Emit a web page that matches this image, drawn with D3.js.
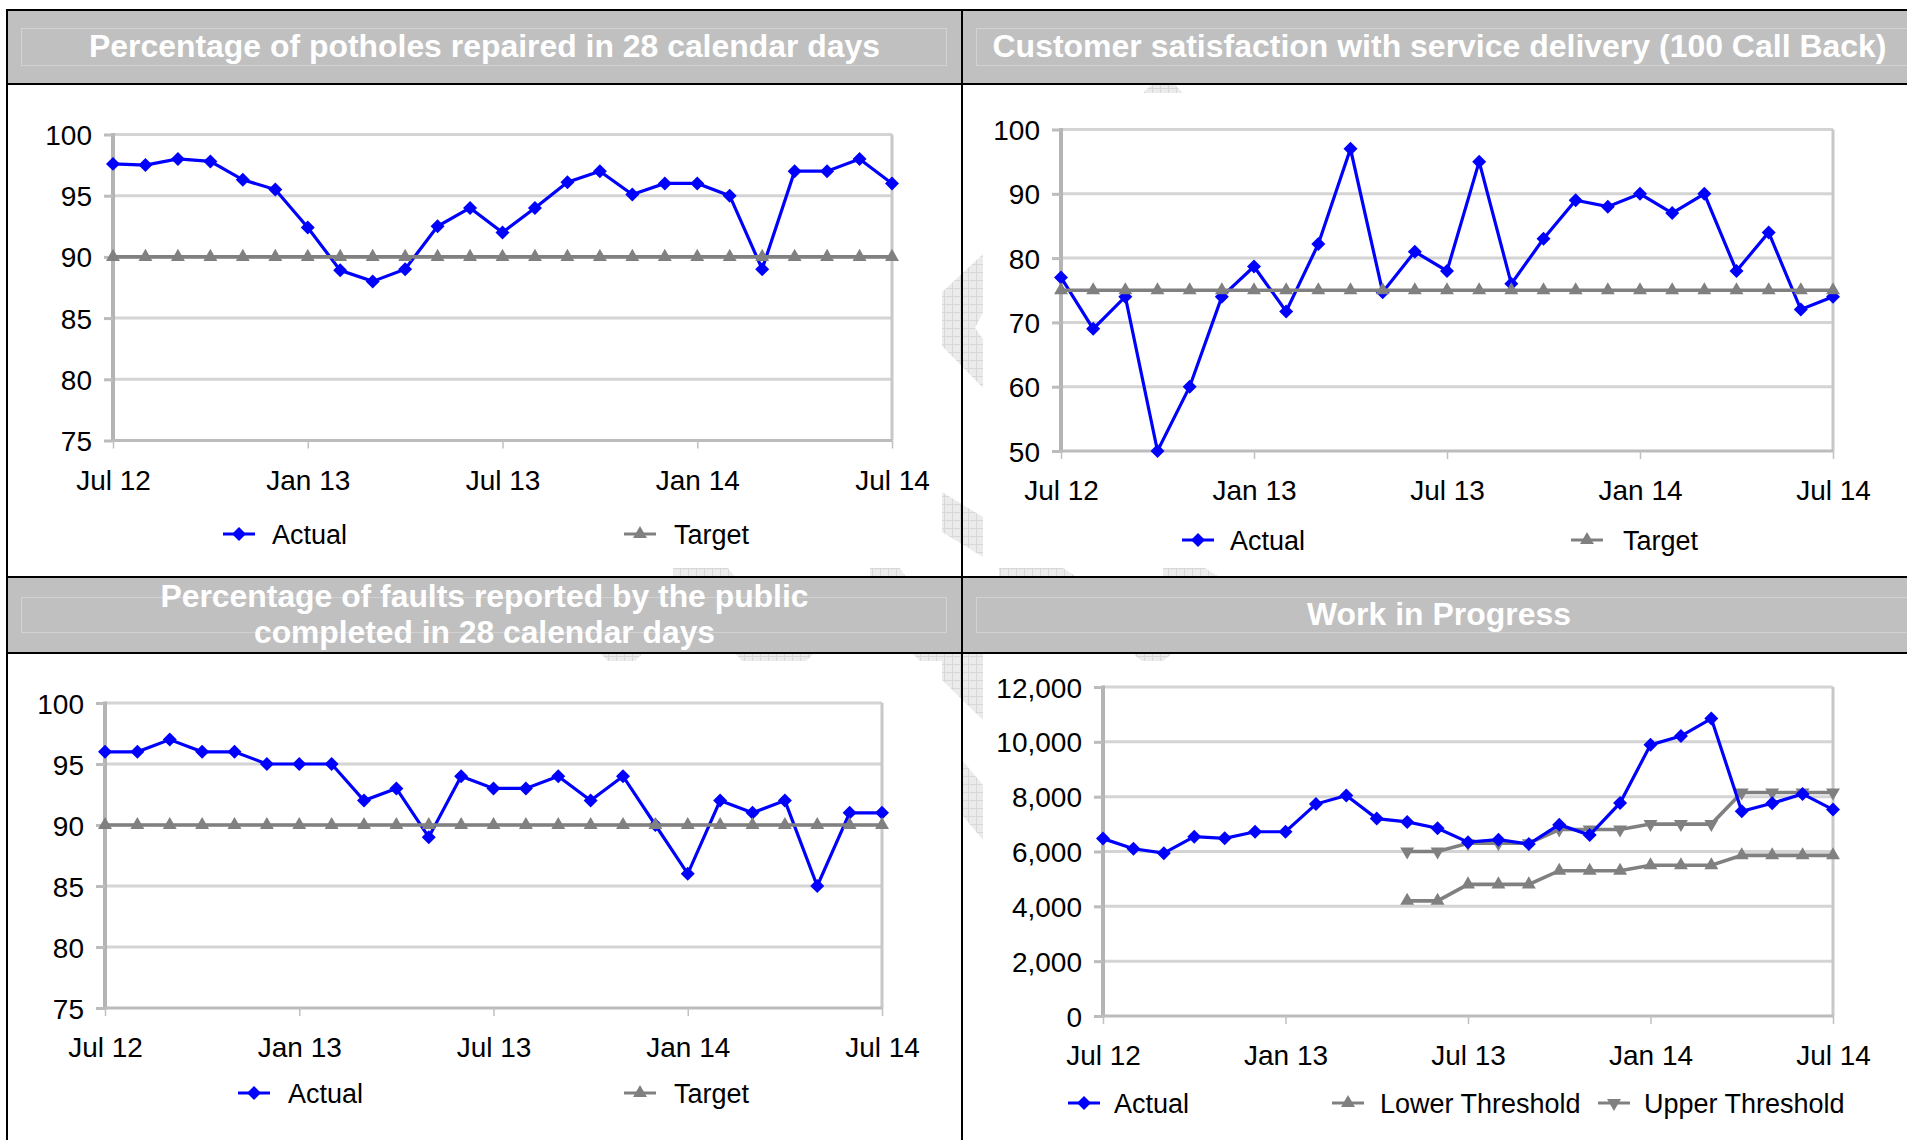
<!DOCTYPE html>
<html>
<head>
<meta charset="utf-8">
<script src="https://cdn.jsdelivr.net/npm/d3@7"></script>
<style>
  html, body { margin: 0; padding: 0; background: #fff; }
  svg { display: block; font-family: "Liberation Sans", Arial, sans-serif; }
</style>
</head>
<body>
<div id="chart"></div>
<script>
// ---- data ----
const months = ['Jul 12', 'Aug 12', 'Sep 12', 'Oct 12', 'Nov 12', 'Dec 12', 'Jan 13', 'Feb 13', 'Mar 13',
  'Apr 13', 'May 13', 'Jun 13', 'Jul 13', 'Aug 13', 'Sep 13', 'Oct 13', 'Nov 13', 'Dec 13', 'Jan 14',
  'Feb 14', 'Mar 14', 'Apr 14', 'May 14', 'Jun 14', 'Jul 14'];
const tickMonths = ['Jul 12', 'Jan 13', 'Jul 13', 'Jan 14', 'Jul 14'];

const potholesActual = [97.6, 97.5, 98.0, 97.8, 96.3, 95.5, 92.4, 88.9, 88.0, 89.0, 92.5, 94.0, 92.0,
  94.0, 96.1, 97.0, 95.1, 96.0, 96.0, 95.0, 89.0, 97.0, 97.0, 98.0, 96.0];
const potholesTarget = [90, 90, 90, 90, 90, 90, 90, 90, 90, 90, 90, 90, 90, 90, 90, 90, 90, 90, 90, 90,
  90, 90, 90, 90, 90];
const potholesTicks = [75, 80, 85, 90, 95, 100];

const satisfactionActual = [77, 69, 74, 50, 60, 74, 78.7, 71.7, 82.2, 97, 74.7, 81, 78, 95, 76, 83, 89,
  88, 90, 87, 90, 78, 84, 72, 74];
const satisfactionTarget = [75, 75, 75, 75, 75, 75, 75, 75, 75, 75, 75, 75, 75, 75, 75, 75, 75, 75, 75,
  75, 75, 75, 75, 75, 75];
const satisfactionTicks = [50, 60, 70, 80, 90, 100];

const faultsActual = [96, 96, 97, 96, 96, 95, 95, 95, 92, 93, 89, 94, 93, 93, 94, 92, 94, 90, 86, 92, 91,
  92, 85, 91, 91];
const faultsTarget = [90, 90, 90, 90, 90, 90, 90, 90, 90, 90, 90, 90, 90, 90, 90, 90, 90, 90, 90, 90,
  90, 90, 90, 90, 90];
const faultsTicks = [75, 80, 85, 90, 95, 100];

const wipActual = [6470, 6100, 5940, 6540, 6480, 6720, 6720, 7730, 8040, 7200, 7080, 6850, 6340, 6430,
  6270, 6980, 6600, 7770, 9890, 10210, 10850, 7470, 7760, 8100, 7530];
const wipLower = [null, null, null, null, null, null, null, null, null, null, 4200, 4200, 4800, 4800,
  4800, 5300, 5300, 5300, 5500, 5500, 5500, 5860, 5860, 5860, 5860];
const wipUpper = [null, null, null, null, null, null, null, null, null, null, 6000, 6000, 6300, 6300,
  6300, 6800, 6800, 6800, 7000, 7000, 7000, 8150, 8150, 8150, 8150];
const wipTicks = [0, 2000, 4000, 6000, 8000, 10000, 12000];

// ---- layout ----
const W = 1907, H = 1140;
const BLUE = '#0000ff', GREY = '#808080';
const FS = 28;

const svg = d3.select('#chart').append('svg')
  .attr('width', W)
  .attr('height', H)
  .attr('viewBox', `0 0 ${W} ${H}`);

// faint hatched watermark behind the panels
const defs = svg.append('defs');
const pat = defs.append('pattern')
  .attr('id', 'hatch')
  .attr('width', 8).attr('height', 8)
  .attr('patternUnits', 'userSpaceOnUse');
pat.append('rect').attr('width', 8).attr('height', 8).attr('fill', '#ebebeb');
pat.append('path').attr('d', 'M0,0.5H8M0.5,0V8').attr('stroke', '#d8d8d8').attr('stroke-width', 1);

const watermark = [
  [[1151, 85], [1175, 85], [1183, 93], [1143, 93]],
  [[983, 254], [942, 292], [942, 346], [983, 388], [983, 339], [975, 328], [983, 312]],
  [[942, 492], [983, 517], [983, 557], [942, 532]],
  [[673, 568], [728, 568], [735, 577], [673, 577]],
  [[870, 568], [900, 568], [906, 577], [870, 577]],
  [[999, 568], [1063, 568], [1077, 577], [999, 577]],
  [[1163, 568], [1205, 568], [1219, 577], [1163, 577]],
  [[600, 653], [643, 653], [635, 661], [608, 661]],
  [[735, 653], [814, 653], [806, 661], [742, 661]],
  [[912, 653], [983, 653], [983, 720], [942, 680], [942, 661], [920, 661]],
  [[962, 760], [983, 785], [983, 840], [962, 815]],
  [[1132, 653], [1173, 653], [1163, 661], [1142, 661]]
];
svg.append('g').selectAll('path')
  .data(watermark)
  .join('path')
  .attr('d', d => 'M' + d.join('L') + 'Z')
  .attr('fill', 'url(#hatch)');

// header bands
svg.append('rect').attr('x', 7).attr('y', 10).attr('width', W - 7).attr('height', 74).attr('fill', '#c0c0c0');
svg.append('rect').attr('x', 7).attr('y', 577).attr('width', W - 7).attr('height', 76).attr('fill', '#c0c0c0');

// faint title boxes
const boxes = [[21, 28, 925, 37], [976, 28, 940, 37], [21, 597, 925, 35], [976, 597, 940, 35]];
svg.append('g').selectAll('rect')
  .data(boxes)
  .join('rect')
  .attr('x', d => d[0] + 0.5).attr('y', d => d[1] + 0.5)
  .attr('width', d => d[2]).attr('height', d => d[3])
  .attr('fill', 'none').attr('stroke', '#d2d2d2').attr('stroke-width', 1);

// black panel rules
const rules = [[7, 10, W, 10], [7, 84, W, 84], [7, 577, W, 577], [7, 653, W, 653], [7, 9, 7, H], [962, 9, 962, H]];
svg.append('g').selectAll('line')
  .data(rules)
  .join('line')
  .attr('x1', d => d[0]).attr('y1', d => d[1])
  .attr('x2', d => d[2]).attr('y2', d => d[3])
  .attr('stroke', '#000').attr('stroke-width', 2);

// ---- charts ----
const charts = [
  {
    title: [['Percentage of potholes repaired in 28 calendar days', 57, 791]], cx: 484.5,
    x0: 113, x1: 892, yTop: 134.5, yBot: 440.5, domain: [75, 100], ticks: potholesTicks, fmt: d3.format('d'),
    series: [
      { name: 'Actual', values: potholesActual, color: BLUE, marker: 'diamond' },
      { name: 'Target', values: potholesTarget, color: GREY, marker: 'up' }
    ],
    legendY: 534, legend: [[239, 272], [640, 674]]
  },
  {
    title: [['Customer satisfaction with service delivery (100 Call Back)', 57, 894]], cx: 1439.5,
    x0: 1061, x1: 1833, yTop: 129.5, yBot: 451, domain: [50, 100], ticks: satisfactionTicks, fmt: d3.format('d'),
    series: [
      { name: 'Actual', values: satisfactionActual, color: BLUE, marker: 'diamond' },
      { name: 'Target', values: satisfactionTarget, color: GREY, marker: 'up' }
    ],
    legendY: 540, legend: [[1198, 1230], [1587, 1623]]
  },
  {
    title: [['Percentage of faults reported by the public', 607, 648], ['completed in 28 calendar days', 643, 461]],
    cx: 484.5,
    x0: 105, x1: 882, yTop: 703, yBot: 1008, domain: [75, 100], ticks: faultsTicks, fmt: d3.format('d'),
    series: [
      { name: 'Actual', values: faultsActual, color: BLUE, marker: 'diamond' },
      { name: 'Target', values: faultsTarget, color: GREY, marker: 'up' }
    ],
    legendY: 1093, legend: [[254, 288], [640, 674]]
  },
  {
    title: [['Work in Progress', 625, 264]], cx: 1439,
    x0: 1103, x1: 1833, yTop: 687, yBot: 1016, domain: [0, 12000], ticks: wipTicks, fmt: d3.format(','),
    series: [
      { name: 'Lower Threshold', values: wipLower, color: GREY, marker: 'up' },
      { name: 'Upper Threshold', values: wipUpper, color: GREY, marker: 'down' },
      { name: 'Actual', values: wipActual, color: BLUE, marker: 'diamond' }
    ],
    legendOrder: [2, 0, 1],
    legendY: 1103, legend: [[1084, 1114], [1348, 1380], [1614, 1644]]
  }
];

const markerPath = {
  diamond: d3.symbol(d3.symbolSquare, 98)(),
  up: d3.symbol(d3.symbolTriangle, 84)(),
  down: d3.symbol(d3.symbolTriangle, 84)()
};
const markerRotate = { diamond: 45, up: 0, down: 180 };

charts.forEach(c => {
  // title
  svg.append('g').selectAll('text')
    .data(c.title)
    .join('text')
    .attr('x', c.cx)
    .attr('y', d => d[1])
    .attr('text-anchor', 'middle')
    .attr('textLength', d => d[2])
    .attr('lengthAdjust', 'spacingAndGlyphs')
    .attr('fill', '#fff')
    .attr('font-weight', 'bold')
    .attr('font-size', 31)
    .text(d => d[0]);

  const x = d3.scalePoint().domain(months).range([c.x0, c.x1]);
  const y = d3.scaleLinear().domain(c.domain).range([c.yBot, c.yTop]);
  const g = svg.append('g');

  // gridlines
  g.append('g')
    .selectAll('line')
    .data(c.ticks.slice(1))
    .join('line')
    .attr('x1', c.x0).attr('x2', c.x1)
    .attr('y1', d => y(d)).attr('y2', d => y(d))
    .attr('stroke', '#d4d4d4').attr('stroke-width', 3);

  // right border
  g.append('line')
    .attr('x1', c.x1).attr('x2', c.x1)
    .attr('y1', c.yTop).attr('y2', c.yBot)
    .attr('stroke', '#c8c8c8').attr('stroke-width', 3);

  // y axis
  const yAxis = g.append('g')
    .attr('transform', `translate(${c.x0},0)`)
    .call(d3.axisLeft(y).tickValues(c.ticks).tickFormat(c.fmt).tickSize(9).tickPadding(12));
  yAxis.select('.domain').attr('stroke', '#b4b4b4').attr('stroke-width', 4)
    .attr('d', `M0,${c.yTop - 1.5}V${c.yBot + 1.5}`);
  yAxis.selectAll('.tick line').attr('stroke', '#bcbcbc').attr('stroke-width', 3);
  yAxis.selectAll('.tick text')
    .attr('font-size', FS).attr('font-family', null).attr('fill', '#000').attr('dy', '0.36em');

  // x axis
  const xAxis = g.append('g')
    .attr('transform', `translate(0,${c.yBot})`)
    .call(d3.axisBottom(x).tickValues(tickMonths).tickSize(8));
  xAxis.select('.domain').attr('stroke', '#bcbcbc').attr('stroke-width', 3)
    .attr('d', `M${c.x0},0H${c.x1}`);
  xAxis.selectAll('.tick line').attr('stroke', '#c0c0c0').attr('stroke-width', 1.5);
  xAxis.selectAll('.tick text')
    .attr('font-size', FS).attr('font-family', null).attr('fill', '#000')
    .attr('y', 49).attr('dy', 0);

  // series
  c.series.forEach(s => {
    const pts = s.values.map((v, i) => ({ m: months[i], v })).filter(d => d.v != null);
    g.append('path')
      .datum(pts)
      .attr('fill', 'none')
      .attr('stroke', s.color)
      .attr('stroke-width', s.color === BLUE ? 3.2 : 3.6)
      .attr('d', d3.line().x(d => x(d.m)).y(d => y(d.v)));
    g.append('g')
      .selectAll('path')
      .data(pts)
      .join('path')
      .attr('d', markerPath[s.marker])
      .attr('fill', s.color)
      .attr('transform', d => `translate(${x(d.m)},${y(d.v)}) rotate(${markerRotate[s.marker]})`);
  });

  // legend
  const order = c.legendOrder || c.series.map((s, i) => i);
  const lg = g.append('g').selectAll('g')
    .data(order.map((k, i) => ({ s: c.series[k], pos: c.legend[i] })))
    .join('g');
  lg.append('line')
    .attr('x1', d => d.pos[0] - 16).attr('x2', d => d.pos[0] + 16)
    .attr('y1', c.legendY).attr('y2', c.legendY)
    .attr('stroke', d => d.s.color).attr('stroke-width', 3);
  lg.append('path')
    .attr('d', d => markerPath[d.s.marker])
    .attr('fill', d => d.s.color)
    .attr('transform', d => `translate(${d.pos[0]},${c.legendY}) rotate(${markerRotate[d.s.marker]})`);
  lg.append('text')
    .attr('x', d => d.pos[1])
    .attr('y', c.legendY + 10)
    .attr('font-size', 27)
    .text(d => d.s.name);
});
</script>
</body>
</html>
